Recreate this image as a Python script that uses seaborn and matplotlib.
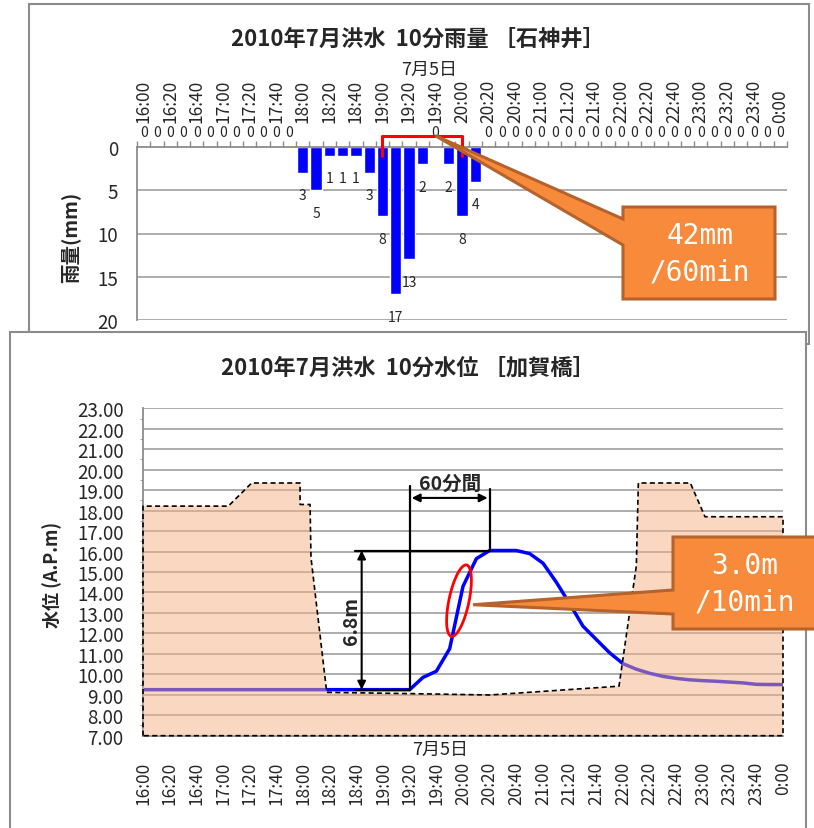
import numpy as np
import pandas as pd
import matplotlib
matplotlib.use('Agg')
import matplotlib.pyplot as plt
import matplotlib.transforms as mtransforms
from matplotlib.patches import Rectangle, Polygon, Ellipse
import seaborn as sns

# --- data: 10-minute steps from 16:00 to 0:00 (49 points) ---
time_labels = [f"{(16 + (10 * k) // 60) % 24}:{(10 * k) % 60:02d}" for k in range(49)]

rain_mm = [0, 0, 0, 0, 0, 0, 0, 0, 0, 0, 0, 0,
           3, 5, 1, 1, 1, 3, 8, 17, 13, 2, 0, 2, 8, 4,
           0, 0, 0, 0, 0, 0, 0, 0, 0, 0, 0, 0, 0, 0, 0, 0, 0, 0, 0, 0, 0, 0, 0]

level_m = [9.25, 9.25, 9.25, 9.25, 9.25, 9.25, 9.25, 9.25, 9.25, 9.25,
           9.25, 9.25, 9.25, 9.25, 9.25, 9.25, 9.25, 9.25, 9.25, 9.25,
           9.25, 9.85, 10.15, 11.25, 14.3, 15.65, 16.05, 16.05, 16.05, 15.9,
           15.43, 14.5, 13.45, 12.35, 11.7, 11.05, 10.52, 10.25, 10.05, 9.9,
           9.8, 9.73, 9.69, 9.66, 9.62, 9.58, 9.51, 9.5, 9.5]

# river cross-section (x in 10-min steps after 16:00, y in A.P.m)
bank_t = [0, 0, 6.4, 8.15, 11.78, 11.78, 12.53, 12.6, 13.78, 21.6, 26.0, 35.7,
          37.0, 37.15, 41.05, 42.15, 48, 48, 0]
bank_m = [7.0, 18.22, 18.22, 19.35, 19.35, 18.3, 18.3, 15.7, 9.12, 9.04, 8.99, 9.42,
          15.3, 19.35, 19.35, 17.7, 17.7, 7.0, 7.0]

rain_ticks = [0, 5, 10, 15, 20]
level_ticks = list(range(7, 24))

win_start, win_end = 18, 24      # 60-minute rainfall window (42 mm)
rise_start, rise_peak = 20, 26   # 19:20 -> 20:20 rise of water level

sns.set_style('white')
plt.rcParams['font.family'] = ['Noto Sans CJK JP', 'DejaVu Sans']

W, H = 814, 829
fig = plt.figure(figsize=(W / 100, H / 100), dpi=100)
px = mtransforms.Affine2D().scale(1 / W, -1 / H).translate(0, 1) + fig.transFigure
GRID = '#A6A6A6'
SPINE = '#8C8C8C'


def rect(x0, y0, x1, y1):
    return [x0 / W, 1 - y1 / H, (x1 - x0) / W, (y1 - y0) / H]


def to_px(ax, x, y):
    dx, dy = ax.transData.transform((x, y))
    return dx, H - dy


# --- panel frames ---
fig.add_artist(Rectangle((29, 5), 780, 340, transform=px, fill=False,
                         ec=SPINE, lw=1.5, zorder=1))
fig.add_artist(Rectangle((10, 333), 796, 520, transform=px, fc='white',
                         ec=SPINE, lw=1.5, zorder=2))

# --- top chart: rainfall ---
ax1 = fig.add_axes(rect(137, 148, 787, 321), zorder=0)
df_rain = pd.DataFrame({'time': time_labels, 'rain': rain_mm})
sns.barplot(data=df_rain, x='time', y='rain', color='#0000FF', saturation=1,
            width=0.85, ax=ax1, zorder=2)
ax1.set_xlim(-0.5, 48.5)
ax1.set_ylim(20, 0)
ax1.set_xlabel('')
ax1.set_ylabel('')
ax1.set_xticks(range(0, 49, 2), labels=time_labels[::2], rotation=90)
ax1.set_xticks(np.arange(-0.5, 49, 1), minor=True)
ax1.tick_params(axis='x', which='both', top=True, labeltop=True,
                bottom=False, labelbottom=False)
ax1.tick_params(axis='x', which='major', length=0, pad=18, labelsize=12.5)
ax1.tick_params(axis='x', which='minor', length=4.3, color=SPINE, width=1)
ax1.set_yticks(rain_ticks)
ax1.tick_params(axis='y', length=3.6, pad=10, labelsize=13.5, color=SPINE)
ax1.yaxis.grid(True, color=GRID, lw=1.3)
ax1.set_axisbelow(True)
for s in ['bottom', 'right']:
    ax1.spines[s].set_visible(False)
for s in ['top', 'left']:
    ax1.spines[s].set_color(SPINE)
    ax1.spines[s].set_linewidth(1.3)

for i, v in enumerate(rain_mm):
    ax1.text(i, v + 2.6 if v else -1.7, str(v), ha='center', va='center',
             fontsize=10, clip_on=False)

ax1.plot([win_start, win_start, win_end, win_end], [1.0, -1.3, -1.3, 1.0],
         color='red', lw=2.2, clip_on=False, solid_joinstyle='round', zorder=4)

fig.text(418, 39, '2010年7月洪水  10分雨量 ［石神井］', transform=px,
         ha='center', va='center', fontsize=16, fontweight='bold')
fig.text(429, 70, '7月5日', transform=px, ha='center', va='center', fontsize=13)
fig.text(70, 237, '雨量(mm)', transform=px, ha='center', va='center',
         fontsize=14, fontweight='bold', rotation=90)

# --- bottom chart: water level ---
ax2 = fig.add_axes(rect(143, 409.3, 783, 736.7), zorder=3)
sns.lineplot(x=np.arange(len(level_m)), y=level_m, color='#0000FF', lw=2.5,
             ax=ax2, zorder=2)
ax2.fill(bank_t, bank_m, facecolor='#F4B183', alpha=0.5, lw=0, zorder=3)
ax2.plot(bank_t, bank_m, color='black', ls=(0, (3, 2)), lw=1.2,
         clip_on=False, zorder=3.5)
ax2.set_xlim(0, 48)
ax2.set_ylim(7, 23)
ax2.set_xticks(range(49), labels=[t if k % 2 == 0 else '' for k, t in enumerate(time_labels)],
               rotation=90)
ax2.tick_params(axis='x', length=3, pad=15, labelsize=12.5, color=SPINE)
ax2.set_yticks(level_ticks, labels=[f"{v:.2f}" for v in level_ticks])
ax2.set_yticks(np.arange(7, 23.01, 0.5), minor=True)
ax2.tick_params(axis='y', which='major', length=3, pad=11, labelsize=13.5, color=SPINE)
ax2.tick_params(axis='y', which='minor', length=2, left=True, color=SPINE)
ax2.yaxis.grid(True, color=GRID, lw=1.3)
ax2.set_axisbelow(True)
for s in ['top', 'right']:
    ax2.spines[s].set_visible(False)
for s in ['bottom', 'left']:
    ax2.spines[s].set_color(SPINE)
    ax2.spines[s].set_linewidth(1.3)

base = level_m[rise_start]
peak = level_m[rise_peak]
kw = dict(color='black', lw=1.6, zorder=4)
ax2.plot([rise_start, rise_start], [base, 19.2], **kw)
ax2.plot([rise_peak, rise_peak], [peak, 19.05], **kw)
ax2.plot([15.9, rise_peak], [peak, peak], **kw)
ax2.plot([15.9, rise_start], [base, base], **kw)
arrow = dict(arrowstyle='<|-|>', color='black', lw=1.5, mutation_scale=12,
             shrinkA=0, shrinkB=0)
ax2.annotate('', xy=(16.4, peak), xytext=(16.4, base), arrowprops=arrow, zorder=4)
ax2.annotate('', xy=(rise_start + 0.15, 18.62), xytext=(rise_peak - 0.15, 18.62),
             arrowprops=arrow, zorder=4)
ax2.text(15.6, (base + peak) / 2, '6.8m', rotation=90, ha='center', va='center',
         fontsize=14, fontweight='bold', zorder=4)
ax2.text((rise_start + rise_peak) / 2, 19.35, '60分間', ha='center', va='center',
         fontsize=14, fontweight='bold', zorder=4)

ell_tr = fig.dpi_scale_trans + mtransforms.ScaledTranslation(23.7, 13.6, ax2.transData)
ax2.add_patch(Ellipse((0, 0), 0.2, 0.73, angle=-12, transform=ell_tr, fill=False,
                      ec='red', lw=2, clip_on=False, zorder=5))

fig.text(408, 368, '2010年7月洪水  10分水位 ［加賀橋］', transform=px,
         ha='center', va='center', fontsize=16, fontweight='bold', zorder=4)
fig.text(440, 750, '7月5日', transform=px, ha='center', va='center',
         fontsize=13, zorder=4)
fig.text(52, 575, '水位 (A.P.m)', transform=px, ha='center', va='center',
         fontsize=13, fontweight='bold', rotation=90, zorder=4)

# --- callouts ---
ORANGE, ORANGE_EDGE = '#F78B3B', '#B5622C'


def callout(tip, box, base_y, text, zorder):
    x0, y0, x1, y1 = box
    pts = [tip, (x0, base_y[0]), (x0, y0), (x1, y0), (x1, y1), (x0, y1), (x0, base_y[1])]
    fig.add_artist(Polygon(pts, closed=True, transform=px, fc=ORANGE,
                           ec=ORANGE_EDGE, lw=2.2, zorder=zorder))
    fig.text((x0 + min(x1, W)) / 2 + 1, (y0 + y1) / 2, text, transform=px,
             ha='center', va='center', color='white', fontsize=20,
             family='DejaVu Sans Mono', linespacing=1.4, zorder=zorder + 0.1)


callout(to_px(ax1, 22, -1.3), (623, 208, 775, 300), (220, 246), '42mm\n/60min', 5)
callout(to_px(ax2, 24.75, 13.4), (673, 538, 832, 630), (591, 615), '3.0m\n/10min', 6)

fig.savefig('out.png', dpi=100)
